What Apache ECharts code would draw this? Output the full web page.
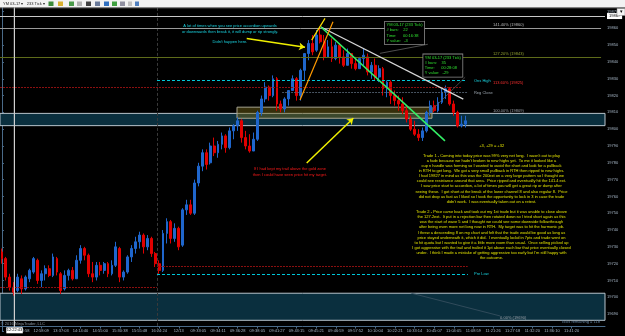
<!DOCTYPE html>
<html><head><meta charset="utf-8">
<script src="https://cdn.jsdelivr.net/npm/echarts/dist/echarts.min.js"></script>
<style>html,body{margin:0;padding:0;background:#000;overflow:hidden}#c{width:625px;height:336px;}</style>
</head><body><div id="c"></div><script>
// ---------- data ----------
const tickLabels = ['12:28:58','12:58:09','13:37:03','14:14:40','14:55:00','15:30:38','15:55:48','16:24:24','12/13','09:33:05','09:34:11','09:36:28','09:38:05','09:41:27','09:43:15','09:45:21','09:46:59','09:57:52','10:10:04','10:22:21','10:33:14','10:45:07','11:04:05','11:08:59','11:21:26','11:27:18','11:32:20','11:36:10','11:41:20'];
const opens = [19727,19723,19712,19706,19704,19711,19705,19711,19715,19722,19710,19714,19717,19713,19723,19714,19705,19713,19716,19711,19722,19729,19725,19714,19712,19719,19716,19720,19714,19719,19729,19712,19715,19724,19729,19733,19737,19730,19735,19726,19720,19716,19738,19745,19735,19741,19731,19752,19755,19750,19768,19778,19786,19780,19790,19786,19791,19796,19789,19799,19802,19805,19795,19790,19787,19794,19810,19818,19825,19820,19830,19815,19812,19818,19823,19830,19820,19835,19845,19851,19847,19856,19852,19843,19849,19842,19850,19843,19838,19845,19839,19836,19842,19843,19834,19838,19831,19836,19824,19828,19820,19817,19815,19811,19806,19800,19797,19795,19799,19810,19814,19811,19816,19822,19824,19815,19810,19802,19803];
const closes = [19723,19712,19706,19703,19712,19705,19712,19716,19723,19710,19714,19717,19713,19724,19715,19704,19713,19716,19711,19722,19729,19725,19714,19712,19719,19716,19720,19714,19719,19730,19712,19715,19724,19729,19733,19737,19730,19735,19726,19720,19716,19738,19745,19735,19741,19730,19752,19755,19750,19768,19778,19786,19779,19790,19786,19791,19796,19789,19799,19802,19805,19795,19790,19787,19794,19810,19818,19825,19820,19830,19815,19812,19818,19823,19830,19820,19835,19845,19851,19846,19856,19852,19843,19849,19842,19850,19843,19838,19845,19839,19836,19842,19844,19834,19838,19831,19836,19824,19828,19820,19817,19815,19811,19806,19800,19797,19795,19799,19810,19814,19811,19816,19822,19824,19815,19810,19802,19803,19805];
const lows = [19720,19710,19704,19701,19703,19702,19704,19709,19714,19708,19706,19710,19712,19712,19713,19702,19704,19710,19710,19711,19720,19722,19712,19709,19710,19713,19714,19712,19713,19718,19709,19710,19714,19721,19726,19729,19726,19728,19724,19718,19714,19715,19732,19732,19733,19728,19730,19749,19749,19749,19766,19775,19776,19779,19784,19783,19788,19786,19788,19794,19799,19792,19788,19786,19787,19793,19808,19816,19817,19819,19811,19810,19810,19814,19823,19817,19817,19829,19841,19844,19846,19851,19841,19843,19840,19841,19839,19837,19838,19836,19835,19836,19838,19832,19830,19829,19828,19820,19819,19815,19814,19811,19809,19804,19799,19796,19793,19793,19798,19808,19810,19810,19815,19818,19814,19808,19801,19801,19801];
const highs = [19729,19724,19714,19709,19714,19713,19713,19717,19724,19723,19716,19719,19719,19726,19724,19715,19716,19717,19718,19725,19731,19730,19726,19721,19721,19721,19721,19721,19722,19733,19730,19716,19725,19731,19736,19739,19738,19737,19736,19727,19722,19740,19747,19746,19744,19742,19753,19758,19758,19770,19780,19788,19788,19792,19795,19793,19798,19797,19801,19803,19807,19806,19799,19797,19798,19811,19820,19828,19826,19832,19831,19817,19819,19823,19832,19831,19836,19845,19853,19856,19859,19861,19856,19853,19854,19852,19851,19847,19848,19845,19843,19843,19848,19845,19840,19842,19838,19837,19829,19829,19823,19820,19819,19814,19808,19805,19800,19801,19811,19817,19817,19819,19824,19826,19825,19817,19811,19808,19808];
const lastPrice = 19805;
const crossPrice = 19867.3;
const crossTime = '12:22:43';
const fibPrices = [19860, 19842.7, 19824.9, 19809.4, 19689];
const fibNames = ['141.40% (19860)','127.20% (19843)','113.60% (19825)','100.00% (19809)','0.00% (19690)'];
const bandTops = [19809.4, 19702.4];
const bandBottoms = [19802.1, 19686.3];
const ovnHigh = 19829, regClose = 19821.9, preLow = 19713.7, oldLow1 = 19705.9, oldLow2 = 19718.6;
const goldZone = [19813.1, 19806.5];

// ---------- build ----------
const SLOTS = 154;
const categories = [];
for (let i = 0; i < SLOTS; i++) {
  const k = i / 5 - 1;
  categories.push(i % 5 === 0 && k >= 0 && k < tickLabels.length ? tickLabels[k] : '');
}
const candles = opens.map((o, i) => [o, closes[i], lows[i], highs[i]]);
const FF = '"Liberation Sans", Arial, sans-serif';
const AX = '#4a6a88', AXT = '#a8b8c8';

const chart = echarts.init(document.getElementById('c'), null, {renderer: 'canvas'});

function seg(s1, p1, s2, p2, color, width, type, arrow) {
  return [
    {coord: [s1, p1], symbol: 'none', lineStyle: {color: color, width: width, type: type || 'solid'}},
    {coord: [s2, p2], symbol: arrow ? 'arrow' : 'none', symbolSize: arrow ? 6 : 0}
  ];
}
const L = -0.5, SES = 39.46, CROSS_S = 3.14;
const lines = [
  seg(SES, 19680, SES, 19880, '#3a3a3a', 1, [3, 2]),
  seg(CROSS_S, 19682.5, CROSS_S, 19880, '#d0d0d0', 1),
  {yAxis: crossPrice, symbol: 'none', lineStyle: {color: '#c8c8c8', width: 1, type: 'solid'},
    label: {show: true, position: 'end', formatter: String(Math.round(crossPrice)), backgroundColor: '#ffffff', color: '#000', fontSize: 4, fontFamily: FF, padding: [1, 2], distance: 2}},
  {yAxis: lastPrice, symbol: 'none', lineStyle: {opacity: 0},
    label: {show: true, position: 'end', formatter: String(lastPrice), backgroundColor: '#f0a020', color: '#000', fontSize: 4, fontFamily: FF, padding: [1, 2], distance: 2}},
  seg(L, fibPrices[0], 152.5, fibPrices[0], '#9a9a9a', 1),
  seg(L, fibPrices[1], 152.5, fibPrices[1], '#5e6b1a', 1),
  seg(L, fibPrices[2], 117.1, fibPrices[2], '#8b1010', 1, [2, 1]),
  seg(SES, ovnHigh, 117.9, ovnHigh, '#00c8d8', 1.2, [3, 2]),
  seg(71.3, regClose, 118.6, regClose, '#5a6a7a', 0.8, [2, 1]),
  seg(L, oldLow1, SES, oldLow1, '#8b1010', 1, [2, 1]),
  seg(SES, oldLow2, 118.55, oldLow2, '#8b1010', 1, [2, 1]),
  seg(SES, preLow, 118.6, preLow, '#00c8d8', 1.2, [3, 2]),
  seg(104.1, 19702.5, 126.8, 19688.9, '#3a5262', 0.8),
  seg(96.2, 19845.1, 108.4, 19850.5, '#707070', 0.7),
  seg(108.1, 19808.4, 117.9, 19830.9, '#606060', 0.7),
  seg(81.2, 19860.8, 117.43, 19817.9, '#d8d8d8', 1.2),
  seg(81.2, 19860.8, 112.77, 19793, '#33ee66', 1.6),
  seg(75.87, 19817.3, 84.26, 19863.9, '#ff9a00', 1.2),
  seg(78.84, 19853.0, 82.23, 19865.9, '#ffe000', 1.2),
  seg(62.3, 19854.0, 77.14, 19848.7, '#f0f000', 1.5, 'solid', true),
  seg(77.57, 19779.9, 89.43, 19806.5, '#f0f000', 1.5, 'solid', true)
];

const option = {
  backgroundColor: '#000',
  animation: false,
  grid: {left: 0, right: 20, top: -5.3, bottom: 5.1, containLabel: false, outerBoundsMode: 'none'},
  xAxis: [
    {type: 'category', data: categories, boundaryGap: true, offset: -4.4,
     axisLine: {show: true, lineStyle: {color: AX, width: 1}},
     axisTick: {show: true, alignWithLabel: true, length: 2, interval: (i, v) => v !== '', lineStyle: {color: AX}},
     axisLabel: {show: true, interval: (i, v) => v !== '', fontSize: 4, color: AXT, margin: 2, fontFamily: FF},
     splitLine: {show: false}},
    {type: 'value', min: -0.5, max: SLOTS - 0.5, show: false}
  ],
  yAxis: {type: 'value', position: 'right', min: 19680, max: 19880, interval: 10,
    axisLine: {show: true, lineStyle: {color: AX, width: 1}},
    axisTick: {show: true, length: 2, lineStyle: {color: AX}},
    axisLabel: {fontSize: 4, color: AXT, margin: 2, fontFamily: FF,
      formatter: v => (v < 19690 || v > 19870) ? '' : String(v)},
    splitLine: {show: false}},
  series: [
    {type: 'line', xAxisIndex: 1, data: [], z: 1, silent: true,
     markArea: {silent: true, data: [
       [{yAxis: bandTops[0], itemStyle: {color: '#0a2f3e', borderColor: '#b8c4cc', borderWidth: 1}}, {yAxis: bandBottoms[0]}],
       [{yAxis: bandTops[1], itemStyle: {color: '#0a2f3e', borderColor: '#b8c4cc', borderWidth: 1}}, {yAxis: bandBottoms[1]}],
       [{coord: [59.83, goldZone[0]], itemStyle: {color: 'rgba(120,105,25,0.45)', borderColor: '#a8a490', borderWidth: 1}}, {coord: [109.46, goldZone[1]]}]
     ]}},
    {type: 'candlestick', data: candles, z: 2, barWidth: '60%', silent: true,
     itemStyle: {color: '#1f66cc', color0: '#e00000', borderColor: '#1f66cc', borderColor0: '#e00000', borderWidth: 1}},
    {type: 'line', xAxisIndex: 1, data: [], z: 3, silent: true,
     markLine: {silent: true, symbol: 'none', label: {show: false}, data: lines}}
  ]
};
chart.setOption(option);

// ---------- annotation texts (positioned through the chart scales) ----------
const px = s => chart.convertToPixel({xAxisIndex: 1}, s);
const py = p => chart.convertToPixel({yAxisIndex: 0}, p);
function txt(s, p, text, color, align, vAlign, extra) {
  const st = Object.assign({text: text, fill: color, fontSize: 4, fontFamily: FF,
    align: align || 'center', textAlign: align || 'center',
    verticalAlign: vAlign || 'middle', textVerticalAlign: vAlign || 'middle', lineHeight: 5.6}, extra || {});
  return {type: 'text', x: px(s), y: py(p), z: 100, silent: true, style: st};
}
const para = [
"Trade 1 - Coming into today price was 99% very net long.  I wasn't out to play",
"a fade because we hadn't broken to new highs yet.  To me it looked like a",
"cup n handle was forming so I wanted to avoid the short and look for a pullback",
"in RTH to get long.  We got a very small pullback in RTH then ripped to new highs.",
"I had 19827 in mind as this was the 200ext on a very large pattern so I thought we",
"could see resistance around that area.  Price ripped and eventually hit the 141.4 ext.",
"I saw price start to accordion, a lot of times you will get a great rip or dump after",
"seeing these.  I got short at the break of the lower channel 8 and also regular 8.  Price",
"did not drop as fast as I liked so I took the opportunity to lock in 3 in case the trade",
"didn't work.  I was eventually taken out on a retest.",
"",
"Trade 2 - Price came back and took out my 1st trade but it was unable to close above",
"the 127.2ext.  It put in a rejection bar then rotated down so I tried short again as this",
"was the start of wave 5 and I thought we could see some downside followthrough",
"after being even more net long now in RTH.  My target was to hit the harmonic pb.",
"I threw a descending 8 on my chart and felt that the trade would be good as long as",
"price stayed underneath it, which it did.  I eventually lockd in 7pts and trade went on",
"to hit quota but I wanted to give it a little more room than usual.  Once selling picked up",
"I got aggressive with the trail and trailed it 1pt above each bar that price eventually closed",
"under.  I think I made a mistake of getting aggressive too early but I'm still happy with",
"the outcome."].join('\n');

const CY = '#19d3e0';
const crossX = px(CROSS_S);
const graphics = [
  {type: 'line', z: 50, silent: true, shape: {x1: crossX, y1: 8, x2: crossX, y2: 327}, style: {stroke: '#d0d0d0', lineWidth: 1}},
  {type: 'rect', z: 100, shape: {x: 0, y: 0, width: 625, height: 7.5}, style: {fill: '#f2f2f2'}},
  {type: 'rect', z: 100, shape: {x: 0, y: 7.5, width: 625, height: 0.8}, style: {fill: '#8a8a8a'}},
  {type: 'text', z: 101, x: 3, y: 3.8, style: {text: 'YM 03-17 \u25be   233 Tick \u25be', fill: '#222', fontSize: 4, fontFamily: FF, verticalAlign: 'middle', textVerticalAlign: 'middle'}},
  {type: 'rect', z: 101, shape: {x: 48.5, y: 1.5, width: 5, height: 4.5}, style: {fill: '#3a8a3a'}},
  {type: 'rect', z: 101, shape: {x: 58, y: 1.5, width: 5, height: 4.5}, style: {fill: '#d8b030'}},
  {type: 'rect', z: 101, shape: {x: 69, y: 1.5, width: 5, height: 4.5}, style: {fill: '#4a9a4a'}},
  {type: 'rect', z: 101, shape: {x: 77, y: 1.5, width: 5, height: 4.5}, style: {fill: '#b0b0b0'}},
  {type: 'rect', z: 101, shape: {x: 86, y: 1.5, width: 5, height: 4.5}, style: {fill: '#404040'}},
  {type: 'rect', z: 101, shape: {x: 95, y: 1.5, width: 5, height: 4.5}, style: {fill: '#6a7a9a'}},
  {type: 'rect', z: 101, shape: {x: 104, y: 1.5, width: 5, height: 4.5}, style: {fill: '#3070c0'}},
  {type: 'rect', z: 101, shape: {x: 112, y: 1.5, width: 5, height: 4.5}, style: {fill: '#40a040'}},
  {type: 'rect', z: 101, shape: {x: 120, y: 1.5, width: 5, height: 4.5}, style: {fill: '#9090a0'}},
  {type: 'rect', z: 101, shape: {x: 128, y: 1.5, width: 4, height: 4.5}, style: {fill: '#c0c0c0'}},
  {type: 'rect', z: 101, shape: {x: 135, y: 1.5, width: 4, height: 4.5}, style: {fill: '#5080c0'}},
  {type: 'rect', z: 101, shape: {x: 617, y: 8.5, width: 8, height: 7}, style: {fill: '#f4f4f4', stroke: '#888', lineWidth: 0.5}},
  {type: 'text', z: 102, x: 621, y: 12, style: {text: '\u25be', fill: '#000', fontSize: 5, align: 'center', textAlign: 'center', verticalAlign: 'middle', textVerticalAlign: 'middle'}},
  {type: 'rect', z: 102, shape: {x: crossX - 8, y: 327.3, width: 16.5, height: 6}, style: {fill: '#ffffff'}},
  {type: 'text', z: 103, x: crossX + 0.2, y: 330.3, style: {text: crossTime, fill: '#000', fontSize: 4, fontFamily: FF, align: 'center', textAlign: 'center', verticalAlign: 'middle', textVerticalAlign: 'middle'}},
  txt(58.05, 19859.6, 'A lot of times when you see price accordion upwards\nor downwards then break it, it will dump or rip strongly.', CY),
  txt(58.05, 19852.0, "Didn't happen here.", CY),
  txt(73.3, 19774.5, 'If I had kept my trail above the gold zone\nthen I could have seen price hit my target.', '#ff1a1a', 'center', 'middle', {lineHeight: 5.4}),
  txt(124.66, 19790.2, '+3, +29 = +32', '#e6e600'),
  txt(124.6, 19753.8, para, '#e0e000', 'center', 'middle', {lineHeight: 5.115}),
  txt(97.5, 19863.9, 'YM 03-17 (233 Tick)\n# bars:    22\nTime:      00:16:38\nY value:   -3', '#30e030', 'left', 'top',
      {lineHeight: 5.2, backgroundColor: '#000', borderColor: '#8a8a8a', borderWidth: 0.8, padding: [0.8, 1.5]}),
  txt(107.25, 19844.5, 'YM 03-17 (233 Tick)\n# bars:    35\nTime:      00:28:08\nY value:   -29', '#30e030', 'left', 'top',
      {lineHeight: 5.2, backgroundColor: '#000', borderColor: '#8a8a8a', borderWidth: 0.8, padding: [0.8, 1.5]}),
  txt(125.0, 19862.0, fibNames[0], '#b8b8b8', 'left'),
  txt(125.0, 19844.7, fibNames[1], '#8fa030', 'left'),
  txt(125.0, 19827.5, fibNames[2], '#ff3030', 'left'),
  txt(125.0, 19811.0, fibNames[3], '#9aa0a8', 'left'),
  txt(126.8, 19687.8, fibNames[4], '#9aa0a8', 'left'),
  txt(120.15, 19828.8, 'Ons High', CY, 'left'),
  txt(120.15, 19821.7, 'Reg Close', '#9aa4ae', 'left'),
  txt(120.15, 19713.8, 'Pre Low', CY, 'left'),
  txt(-0.3, 19684.1, '\u00a9 2016 NinjaTrader, LLC', '#8a96a2', 'left'),
  txt(152.2, 19685.3, 'Ticks remaining = 118', '#6a8aa8', 'right')
];
chart.setOption({graphic: {elements: graphics}});
</script></body></html>
